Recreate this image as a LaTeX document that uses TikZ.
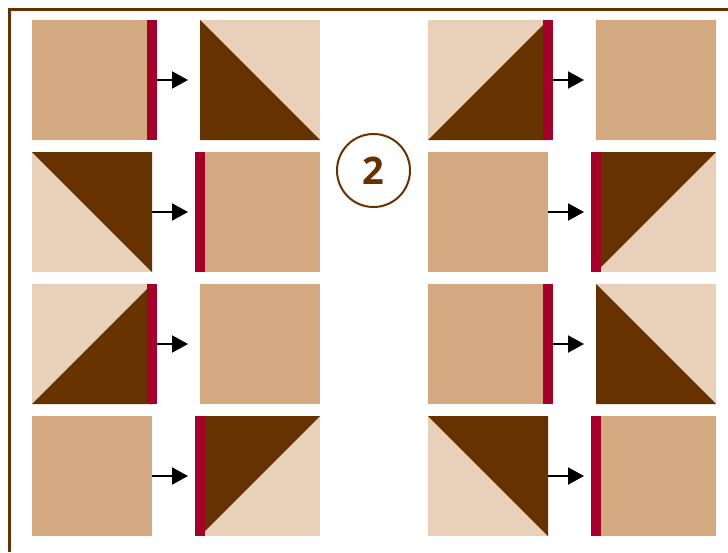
\documentclass[tikz,border=0pt]{standalone}
\usepackage{fontspec}
\newfontfamily\numfont{Open Sans}
\usetikzlibrary{arrows.meta}
\definecolor{tanc}{HTML}{D4A97F}
\definecolor{lightc}{HTML}{E8D0B9}
\definecolor{darkc}{HTML}{663300}
\definecolor{redc}{HTML}{A3002A}
\definecolor{borderc}{HTML}{663300}
\tikzset{
  sq/.style={rectangle, minimum width=120pt, minimum height=120pt, inner sep=0pt, outer sep=0pt, draw=none},
  plain/.style={sq, fill=tanc},
  split/.style={sq, fill=lightc},
  bar/.style={rectangle, minimum width=10.5pt, minimum height=120pt, inner sep=0pt, outer sep=0pt, fill=redc, draw=none},
  arr/.style={line width=2pt, -{Triangle[length=16pt,width=17pt]}},
  tri/.style={fill=darkc},
}
\begin{document}
\begin{tikzpicture}[x=1pt,y=-1pt]
\useasboundingbox (0,0) rectangle (728,552);
% frame
\draw[borderc, line width=3pt] (9,552) -- (9,9) -- (728,9);
% ---- row 1 ----
\node[plain] (a1) at (92,80) {};
\node[bar] (ba1) at (a1.east) {};
\node[split] (b1) at (260,80) {};
\fill[tri] (b1.north west) -- (b1.south west) -- (b1.south east) -- cycle;
\coordinate (ta1) at (188,80);
\draw[arr] (ba1.east) -- (ta1);
\node[split] (c1) at (488,80) {};
\fill[tri] (c1.north east) -- (c1.south east) -- (c1.south west) -- cycle;
\node[bar] (bc1) at (c1.east) {};
\node[plain] (d1) at (656,80) {};
\coordinate (tc1) at (584,80);
\draw[arr] (bc1.east) -- (tc1);
% ---- row 2 ----
\node[split] (a2) at (92,212) {};
\fill[tri] (a2.north west) -- (a2.north east) -- (a2.south east) -- cycle;
\node[plain] (b2) at (260,212) {};
\node[bar] (bb2) at (b2.west) {};
\coordinate (ta2) at (188,212);
\draw[arr] (a2.east) -- (ta2);
\node[plain] (c2) at (488,212) {};
\node[split] (d2) at (656,212) {};
\fill[tri] (d2.north west) -- (d2.north east) -- (d2.south west) -- cycle;
\node[bar] (bd2) at (d2.west) {};
\coordinate (tc2) at (584,212);
\draw[arr] (c2.east) -- (tc2);
% ---- row 3 ----
\node[split] (a3) at (92,344) {};
\fill[tri] (a3.north east) -- (a3.south east) -- (a3.south west) -- cycle;
\node[bar] (ba3) at (a3.east) {};
\node[plain] (b3) at (260,344) {};
\coordinate (ta3) at (188,344);
\draw[arr] (ba3.east) -- (ta3);
\node[plain] (c3) at (488,344) {};
\node[bar] (bc3) at (c3.east) {};
\node[split] (d3) at (656,344) {};
\fill[tri] (d3.north west) -- (d3.south west) -- (d3.south east) -- cycle;
\coordinate (tc3) at (584,344);
\draw[arr] (bc3.east) -- (tc3);
% ---- row 4 ----
\node[plain] (a4) at (92,476) {};
\node[split] (b4) at (260,476) {};
\fill[tri] (b4.north west) -- (b4.north east) -- (b4.south west) -- cycle;
\node[bar] (bb4) at (b4.west) {};
\coordinate (ta4) at (188,476);
\draw[arr] (a4.east) -- (ta4);
\node[split] (c4) at (488,476) {};
\fill[tri] (c4.north west) -- (c4.north east) -- (c4.south east) -- cycle;
\node[plain] (d4) at (656,476) {};
\node[bar] (bd4) at (d4.west) {};
\coordinate (tc4) at (584,476);
\draw[arr] (c4.east) -- (tc4);
% ---- step number ----
\node[circle, draw=borderc, line width=2pt, minimum size=73pt, inner sep=0pt, text=darkc, font=\numfont\bfseries\fontsize{38}{38}\selectfont] (num) at (373.5,170.5) {2};
\end{tikzpicture}
\end{document}
